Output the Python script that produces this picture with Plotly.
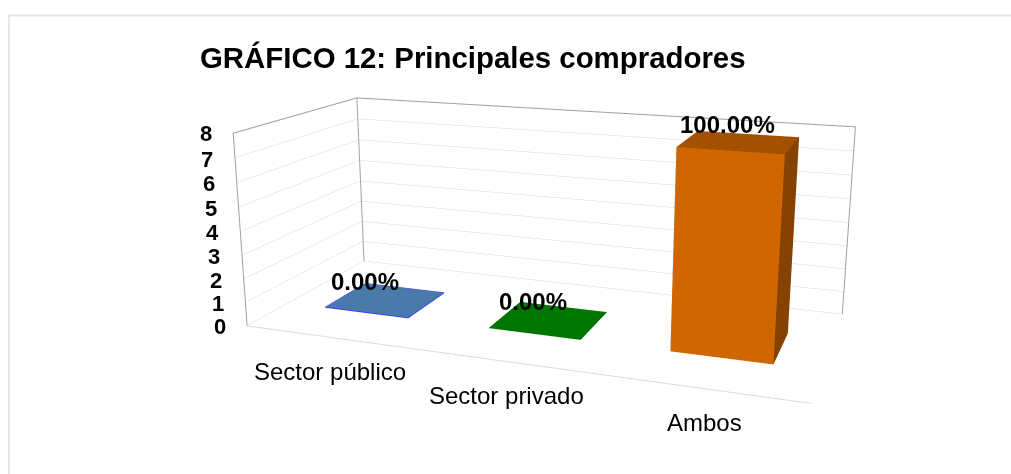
import math
import plotly.graph_objects as go

# ---------------- data ----------------
categories = ["Sector público", "Sector privado", "Ambos"]
values = [0, 0, 8]
value_labels = ["0.00%", "0.00%", "100.00%"]
z_ticks = [0, 1, 2, 3, 4, 5, 6, 7, 8]
title_text = "GRÁFICO 12: Principales compradores"

# ---------------- styles ----------------
front_colors = ["#4A7BA8", "#007500", "#CF6600"]
side_colors = ["#3A6186", "#005500", "#854200"]
top_colors = ["#4A7BA8", "#007500", "#A35100"]
edge_colors = ["#3C3CFF", None, None]
FONT = "Liberation Sans, Arial, sans-serif"

X_RANGE = [-0.5, len(categories) - 0.5]
Y_RANGE = [0.0, 1.0]
Z_RANGE = [0, z_ticks[-1]]
BAR_HALF = 0.26
DEPTH = (0.32, 0.68)

# camera (Excel-like rotation X=20, Y=15 with perspective)
AZ, EL, DIST = 20.0, 15.0, 2.5
BOX = (0.49, 0.211, 0.172)          # box size relative to camera distance

# page geometry: the figure is larger than the window so that the
# perspective matches; it is shifted so that the view centre lands at (549, 227)
WIN_W, WIN_H = 1011, 474
FIG_W, FIG_H = 1098, 948
SHIFT_TOP = -247


def px(xw):
    return xw / FIG_W


def py(yw):
    return 1 - (yw - SHIFT_TOP) / FIG_H


fig = go.Figure()


def cuboid(xc, h, fc, sc, tc):
    x0, x1 = xc - BAR_HALF, xc + BAR_HALF
    y0, y1 = DEPTH
    z0, z1 = 0, h
    xs = [x0, x1, x1, x0, x0, x1, x1, x0]
    ys = [y0, y0, y1, y1, y0, y0, y1, y1]
    zs = [z0, z0, z0, z0, z1, z1, z1, z1]
    tris = [
        (0, 1, 5, fc), (0, 5, 4, fc),      # front
        (1, 2, 6, sc), (1, 6, 5, sc),      # right side
        (4, 5, 6, tc), (4, 6, 7, tc),      # top
        (3, 2, 6, sc), (3, 6, 7, sc),      # back
        (0, 3, 7, sc), (0, 7, 4, sc),      # left
        (0, 1, 2, tc), (0, 2, 3, tc),      # bottom
    ]
    return go.Mesh3d(
        x=xs, y=ys, z=zs,
        i=[t[0] for t in tris], j=[t[1] for t in tris], k=[t[2] for t in tris],
        facecolor=[t[3] for t in tris],
        flatshading=True,
        lighting=dict(ambient=1, diffuse=0, specular=0, roughness=1, fresnel=0),
        hoverinfo="skip", showscale=False,
    )


for i, v in enumerate(values):
    fig.add_trace(cuboid(i, v, front_colors[i], side_colors[i], top_colors[i]))
    if edge_colors[i]:
        x0, x1 = i - BAR_HALF, i + BAR_HALF
        y0, y1 = DEPTH
        fig.add_trace(go.Scatter3d(
            x=[x0, x1, x1, x0, x0], y=[y0, y0, y1, y1, y0], z=[v] * 5,
            mode="lines", line=dict(color=edge_colors[i], width=2),
            hoverinfo="skip", showlegend=False))

# wall frame (derived from the axis ranges, inset a hair to avoid clipping)
ex = (X_RANGE[1] - X_RANGE[0]) * 1e-3
ey = (Y_RANGE[1] - Y_RANGE[0]) * 1e-3
ez = (Z_RANGE[1] - Z_RANGE[0]) * 1e-3
xa, xb = X_RANGE[0] + ex, X_RANGE[1] - ex
ya, yb = Y_RANGE[0] + ey, Y_RANGE[1] - ey
za, zb = Z_RANGE[0] + ez, Z_RANGE[1] - ez
frame_color = "#A0A0A0"
fig.add_trace(go.Scatter3d(
    x=[xa, xa, xa, xb, xb], y=[ya, ya, yb, yb, yb], z=[za, zb, zb, zb, za],
    mode="lines", line=dict(color=frame_color, width=2),
    hoverinfo="skip", showlegend=False))
fig.add_trace(go.Scatter3d(
    x=[xa, xa], y=[yb, yb], z=[za, zb],
    mode="lines", line=dict(color=frame_color, width=2),
    hoverinfo="skip", showlegend=False))

annotations = []
# data labels
label_dx = [-21, -16, -12]
for i, (v, lab) in enumerate(zip(values, value_labels)):
    annotations.append(dict(
        x=i, y=(DEPTH[0] + DEPTH[1]) / 2, z=v, text=lab, showarrow=False,
        xanchor="center", yanchor="middle", xshift=label_dx[i], yshift=18,
        font=dict(family=FONT, size=24, color="black", weight="bold")))
# category labels (x axis)
for i, c in enumerate(categories):
    annotations.append(dict(
        x=i, y=Y_RANGE[0], z=Z_RANGE[0], text=c, showarrow=False,
        xanchor="center", yanchor="middle", xshift=2, yshift=-34,
        font=dict(family=FONT, size=24, color="black")))
# value axis labels (z axis)
for t in z_ticks:
    annotations.append(dict(
        x=X_RANGE[0], y=Y_RANGE[0], z=t, text=str(t), showarrow=False,
        xanchor="right", yanchor="middle", xshift=-19, yshift=-1,
        font=dict(family=FONT, size=22, color="black", weight="bold")))

axis_common = dict(showbackground=False, showspikes=False, zeroline=False,
                   title=dict(text=""), showticklabels=False, ticks="")

eye_dir = (math.sin(math.radians(AZ)) * math.cos(math.radians(EL)),
           -math.cos(math.radians(AZ)) * math.cos(math.radians(EL)),
           math.sin(math.radians(EL)))

fig.update_layout(
    width=FIG_W, height=FIG_H,
    margin=dict(l=0, r=0, t=0, b=0),
    paper_bgcolor="white",
    showlegend=False,
    title=dict(text=title_text, x=px(200), xanchor="left",
               y=py(58), yanchor="middle",
               font=dict(family=FONT, size=29.4, color="black", weight="bold")),
    scene=dict(
        domain=dict(x=[0.0, 1.0], y=[0.0, 1.0]),
        aspectmode="manual",
        aspectratio=dict(x=BOX[0] * DIST, y=BOX[1] * DIST, z=BOX[2] * DIST),
        camera=dict(eye=dict(x=eye_dir[0] * DIST, y=eye_dir[1] * DIST,
                             z=eye_dir[2] * DIST),
                    center=dict(x=0, y=0, z=0), up=dict(x=0, y=0, z=1),
                    projection=dict(type="perspective")),
        xaxis=dict(range=X_RANGE, tickvals=list(range(len(categories))),
                   showgrid=False, showline=True,
                   linecolor="#D6DCE5", linewidth=2, **axis_common),
        yaxis=dict(range=Y_RANGE, showgrid=False, showline=False, **axis_common),
        zaxis=dict(range=Z_RANGE, tickvals=z_ticks, showgrid=True,
                   gridcolor="#D9D9D9", gridwidth=1, showline=False,
                   **axis_common),
        annotations=annotations,
    ),
    shapes=[dict(type="rect", xref="paper", yref="paper",
                 x0=px(9), x1=1.01, y0=py(WIN_H + 20), y1=py(15.5),
                 line=dict(color="#E3E6EB", width=2), layer="above")],
)

post = (
    "document.documentElement.style.margin='0';"
    "document.body.style.margin='0';"
    "document.body.style.overflow='hidden';"
    "var gd=document.getElementById('{plot_id}');"
    "gd.style.position='fixed';gd.style.left='0px';"
    "gd.style.top='%dpx';" % SHIFT_TOP
)

fig.write_html("out.html", config={"displayModeBar": False}, post_script=post)
